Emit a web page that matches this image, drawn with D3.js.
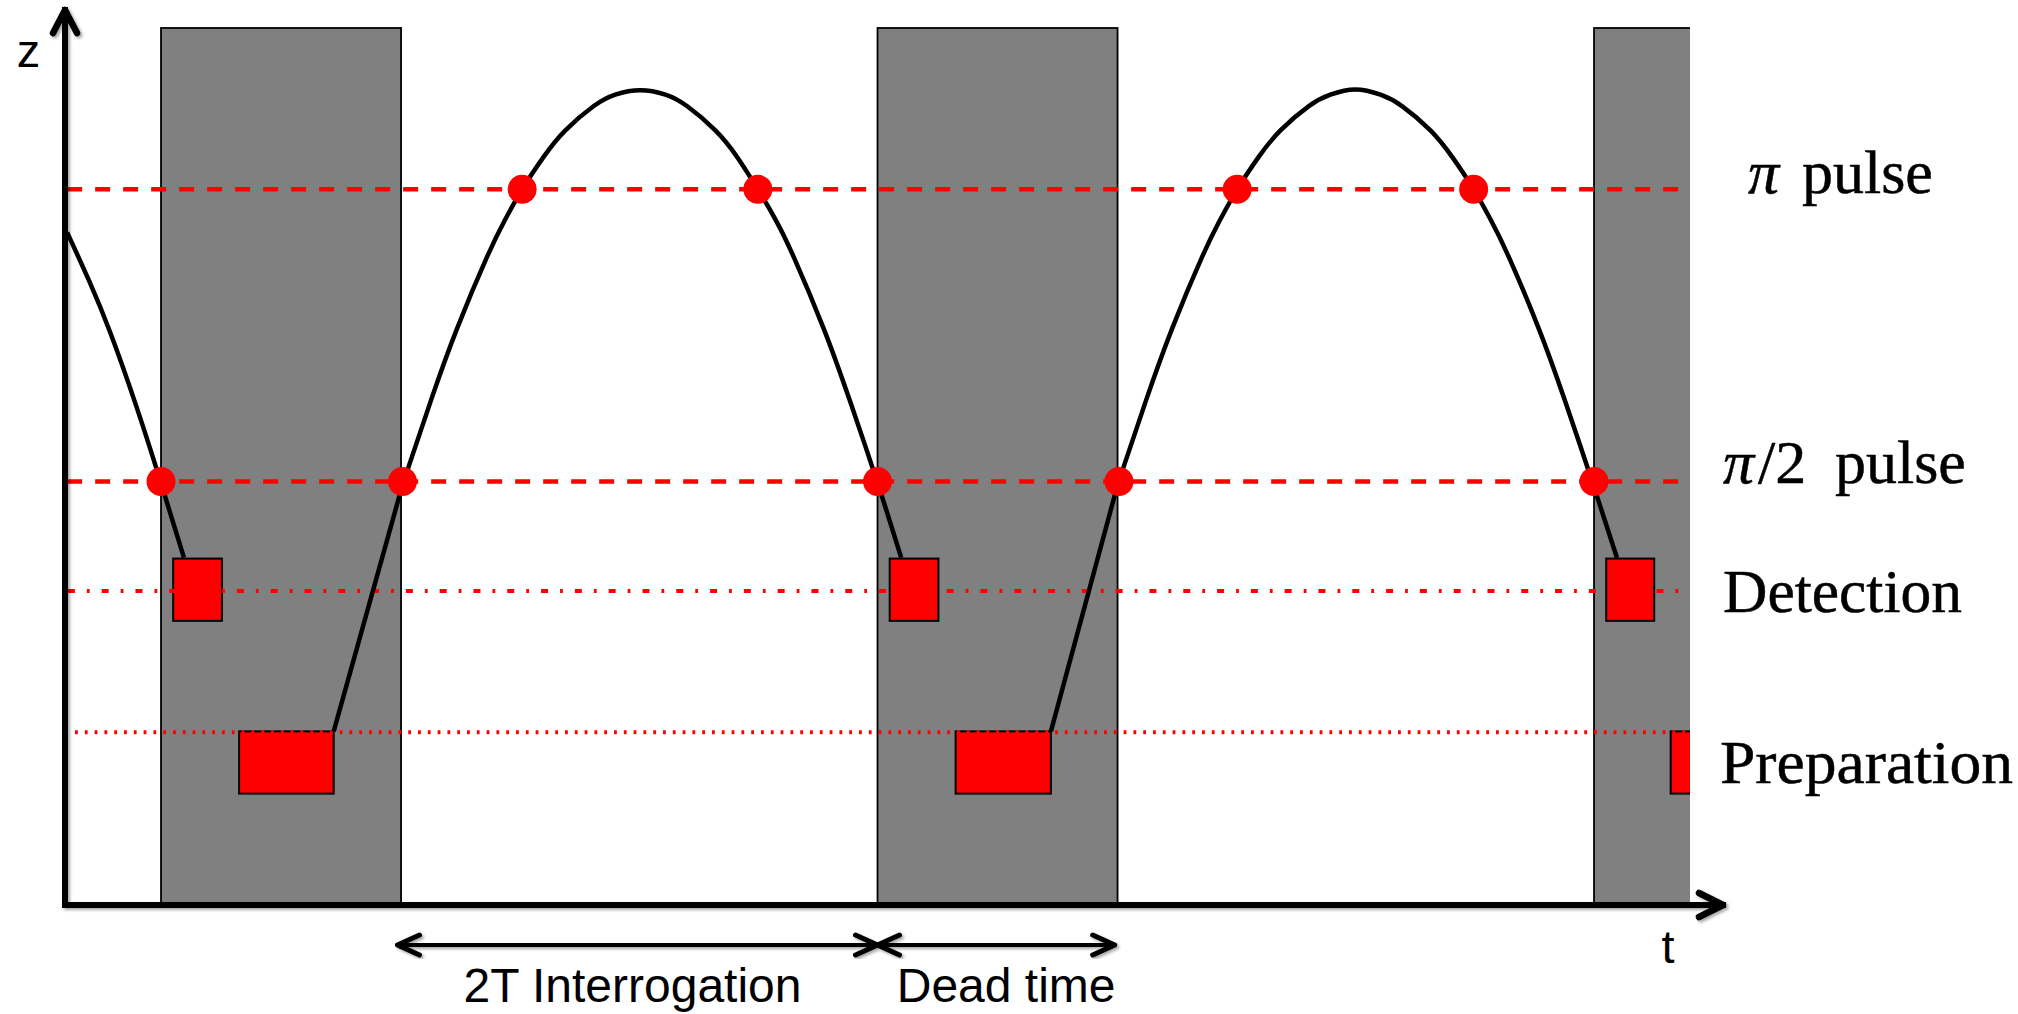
<!DOCTYPE html>
<html>
<head>
<meta charset="utf-8">
<script src="https://cdn.jsdelivr.net/npm/d3@7"></script>
<style>
  html, body { margin: 0; padding: 0; background: #ffffff; }
  svg { display: block; }
</style>
</head>
<body>
<script>
// ---------------- DATA (time t in cycle units, height z in relative units) ----------------
const deadStart = [0, 1, 2];
const deadEnd   = [0.335, 1.335, 2.134];

const levelNames = ["π pulse", "π/2 pulse", "Detection", "Preparation"];
const levelZ     = [0.816, 0.483, 0.358, 0.197];

const detStart = [0.017, 1.017, 2.017];
const detEnd   = [0.085, 1.085, 2.084];
const detZ     = [0.324, 0.395];

const prepStart = [0.109, 1.109, 2.107];
const prepEnd   = [0.241, 1.242, 2.160];
const prepZ     = [0.127, 0.198];

// trajectory of the atoms
const arc0T = [-0.131, -0.100, -0.071, -0.035, 0.000, 0.032];
const arc0Z = [0.767, 0.711, 0.653, 0.570, 0.481, 0.396];

const arc1T = [0.337, 0.377, 0.413, 0.455, 0.480, 0.504, 0.534, 0.564, 0.604, 0.634, 0.669,
               0.704, 0.734, 0.774, 0.804, 0.833, 0.858, 0.883, 0.925, 0.961, 1.001, 1.033];
const arc1Z = [0.479, 0.576, 0.657, 0.739, 0.781, 0.816, 0.853, 0.883, 0.911, 0.924, 0.929,
               0.924, 0.911, 0.883, 0.853, 0.816, 0.781, 0.739, 0.657, 0.576, 0.479, 0.396];

const arc2T = [1.335, 1.375, 1.411, 1.453, 1.478, 1.502, 1.532, 1.562, 1.602, 1.632, 1.667,
               1.702, 1.732, 1.772, 1.802, 1.832, 1.856, 1.881, 1.923, 1.959, 1.999, 2.032];
const arc2Z = [0.479, 0.576, 0.657, 0.739, 0.781, 0.816, 0.853, 0.883, 0.911, 0.924, 0.930,
               0.924, 0.911, 0.883, 0.853, 0.816, 0.781, 0.739, 0.657, 0.576, 0.479, 0.396];

const launch1T = [0.241, 0.337];
const launch2T = [1.242, 1.335];
const launchZ  = [0.198, 0.479];

const pi2PulseT = [0.000, 0.337, 1.000, 1.337, 2.000];
const piPulseT  = [0.504, 0.833, 1.502, 1.832];

const spanLabels = ["2T Interrogation", "Dead time"];
const spanStart  = [0.330, 1.000];
const spanEnd    = [1.000, 1.331];

const axisLabelZ = "z";
const axisLabelT = "t";

// ---------------- LAYOUT ----------------
const W = 2018, H = 1014;
const x = d3.scaleLinear().domain([-0.134, 2.180]).range([65, 1723]);
const y = d3.scaleLinear().domain([0, 1]).range([905, 28]);
const clipT = 2.134;
const red = "#ff0000";

const svg = d3.select("body").append("svg").attr("width", W).attr("height", H);
const defs = svg.append("defs");
const f = defs.append("filter").attr("id", "shadow").attr("x", "-20%").attr("y", "-20%").attr("width", "140%").attr("height", "140%");
f.append("feDropShadow").attr("dx", 2).attr("dy", 2).attr("stdDeviation", 1.6).attr("flood-color", "#000").attr("flood-opacity", 0.35);
defs.append("clipPath").attr("id", "plotclip").append("rect")
  .attr("x", x(-0.134)).attr("y", 0).attr("width", x(clipT) - x(-0.134)).attr("height", y(0));

const plot = svg.append("g").attr("clip-path", "url(#plotclip)");

// dead time zones
plot.selectAll("rect.dead").data(deadStart).join("rect").attr("class", "dead")
  .attr("x", (d) => x(d)).attr("y", y(1))
  .attr("width", (d, i) => x(deadEnd[i]) - x(d) + (i === 2 ? 20 : 0))
  .attr("height", y(0) - y(1))
  .attr("fill", "#808080").attr("stroke", "#000").attr("stroke-width", 1.8);

// detection & preparation boxes
plot.selectAll("rect.det").data(detStart).join("rect").attr("class", "det")
  .attr("x", (d) => x(d)).attr("y", y(detZ[1]))
  .attr("width", (d, i) => x(detEnd[i]) - x(d)).attr("height", y(detZ[0]) - y(detZ[1]))
  .attr("fill", red).attr("stroke", "#000").attr("stroke-width", 2);
plot.selectAll("rect.prep").data(prepStart).join("rect").attr("class", "prep")
  .attr("x", (d) => x(d)).attr("y", y(prepZ[1]))
  .attr("width", (d, i) => x(prepEnd[i]) - x(d)).attr("height", y(prepZ[0]) - y(prepZ[1]))
  .attr("fill", red).attr("stroke", "#000").attr("stroke-width", 2);

// horizontal level lines
const lineStyles = [
  { dash: "15,13", w: 4.5, x0: -0.131 },
  { dash: "15,13", w: 4.5, x0: -0.131 },
  { dash: "7,12,2.8,12", w: 4, x0: -0.130 },
  { dash: "2.8,7", w: 3.8, x0: -0.120 }
];
plot.selectAll("line.level").data(levelZ).join("line").attr("class", "level")
  .attr("x1", (d, i) => x(lineStyles[i].x0)).attr("x2", x(clipT))
  .attr("y1", (d) => y(d)).attr("y2", (d) => y(d))
  .attr("stroke", red).attr("stroke-width", (d, i) => lineStyles[i].w)
  .attr("stroke-dasharray", (d, i) => lineStyles[i].dash);

// trajectory
const smooth = d3.line().x((d) => x(d[0])).y((d) => y(d[1])).curve(d3.curveNatural);
const straight = d3.line().x((d) => x(d[0])).y((d) => y(d[1]));
const arcs = [[arc0T, arc0Z], [arc1T, arc1Z], [arc2T, arc2Z]];
plot.selectAll("path.arc").data(arcs).join("path").attr("class", "arc")
  .attr("d", (a) => smooth(d3.zip(a[0], a[1])))
  .attr("fill", "none").attr("stroke", "#000").attr("stroke-width", 4.5).attr("stroke-linejoin", "round");
plot.selectAll("path.launch").data([launch1T, launch2T]).join("path").attr("class", "launch")
  .attr("d", (a) => straight(d3.zip(a, launchZ)))
  .attr("fill", "none").attr("stroke", "#000").attr("stroke-width", 4.5);

// pulses
plot.selectAll("circle.pi2").data(pi2PulseT).join("circle").attr("class", "pi2")
  .attr("cx", (d) => x(d)).attr("cy", y(levelZ[1])).attr("r", 14.5).attr("fill", red);
plot.selectAll("circle.pi").data(piPulseT).join("circle").attr("class", "pi")
  .attr("cx", (d) => x(d)).attr("cy", y(levelZ[0])).attr("r", 14.5).attr("fill", red);

// axes with arrow heads
const axes = svg.append("g").attr("filter", "url(#shadow)")
  .attr("stroke", "#000").attr("fill", "none").attr("stroke-linecap", "round").attr("stroke-linejoin", "round");
const x0 = x(-0.134), y0 = y(0);
axes.append("path").attr("d", `M${x0},${y0}V10`).attr("stroke-width", 6).attr("stroke-linecap", "square");
axes.append("path").attr("d", `M${x0 - 12},33L${x0},10L${x0 + 12},33`).attr("stroke-width", 6.5);
axes.append("path").attr("d", `M${x0},${y0}H${x(2.180)}`).attr("stroke-width", 6).attr("stroke-linecap", "square");
axes.append("path").attr("d", `M${x(2.180) - 24},${y0 - 12}L${x(2.180)},${y0}L${x(2.180) - 24},${y0 + 12}`).attr("stroke-width", 6.5);

// span arrows
const spanY = 945;
const spans = svg.append("g").attr("filter", "url(#shadow)")
  .attr("stroke", "#000").attr("fill", "none").attr("stroke-linecap", "round").attr("stroke-linejoin", "round");
spanStart.forEach((s, i) => {
  const a = x(s), b = x(spanEnd[i]);
  spans.append("path").attr("d", `M${a},${spanY}H${b}`).attr("stroke-width", 4.2);
  spans.append("path").attr("d", `M${a + 22},${spanY - 10}L${a},${spanY}L${a + 22},${spanY + 10}`).attr("stroke-width", 5);
  spans.append("path").attr("d", `M${b - 22},${spanY - 10}L${b},${spanY}L${b - 22},${spanY + 10}`).attr("stroke-width", 5);
});
svg.selectAll("text.span").data(spanLabels).join("text").attr("class", "span")
  .attr("x", (d, i) => (x(spanStart[i]) + x(spanEnd[i])) / 2 - (i === 0 ? 5 : -10))
  .attr("y", 1002).attr("text-anchor", "middle")
  .attr("font-family", "'Liberation Sans', Arial, sans-serif").attr("font-size", 48)
  .attr("fill", "#000").text((d) => d);

// axis labels
svg.append("text").attr("x", 28.5).attr("y", 67).attr("text-anchor", "middle")
  .attr("font-family", "'Liberation Sans', Arial, sans-serif").attr("font-size", 47).text(axisLabelZ);
svg.append("text").attr("x", 1668).attr("y", 963).attr("text-anchor", "middle")
  .attr("font-family", "'Liberation Sans', Arial, sans-serif").attr("font-size", 47).text(axisLabelT);

// level labels (serif, LaTeX-like)
const serif = "'Liberation Serif', 'Times New Roman', serif";
const lab = svg.append("g").attr("font-family", serif).attr("font-size", 62).attr("fill", "#000")
  .attr("stroke", "#000").attr("stroke-width", 0.5);
// π pulse
const t1 = lab.append("text").attr("y", 193);
t1.append("tspan").attr("x", 1748).attr("font-style", "italic").text("π");
t1.append("tspan").attr("x", 1802).text("pulse");
// π/2 pulse
const t2 = lab.append("text").attr("y", 483);
t2.append("tspan").attr("x", 1723).attr("font-style", "italic").text("π");
t2.append("tspan").attr("x", 1758).text("/2");
t2.append("tspan").attr("x", 1835).text("pulse");
// Detection, Preparation
lab.append("text").attr("x", 1723).attr("y", 612).attr("textLength", 239).attr("lengthAdjust", "spacingAndGlyphs").text(levelNames[2]);
lab.append("text").attr("x", 1720).attr("y", 783).attr("textLength", 293).attr("lengthAdjust", "spacingAndGlyphs").text(levelNames[3]);
</script>
</body>
</html>
